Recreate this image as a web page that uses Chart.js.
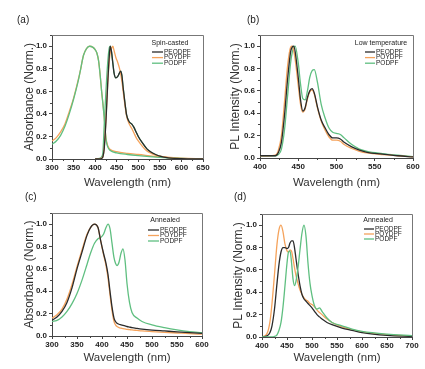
<!DOCTYPE html>
<html>
<head>
<meta charset="utf-8">
<script src="https://cdn.jsdelivr.net/npm/chart.js@4.4.0/dist/chart.umd.min.js"></script>
<style>
  html, body { margin: 0; padding: 0; background: #fff; }
  #wrap { position: relative; width: 425px; height: 369px; overflow: hidden; }
  canvas { position: absolute; }
</style>
</head>
<body>
<div id="wrap">
  <canvas id="chartA" width="212" height="195" style="left:0;top:0"></canvas>
  <canvas id="chartB" width="213" height="195" style="left:212px;top:0"></canvas>
  <canvas id="chartC" width="212" height="184" style="left:0;top:185px"></canvas>
  <canvas id="chartD" width="213" height="184" style="left:212px;top:185px"></canvas>
</div>
<script>
// (a) Spin-casted absorbance: short-wavelength band and long-wavelength band
const aLeftNm = [300, 310, 320, 330, 340, 350, 360, 365, 373, 380, 387, 395, 400, 404, 408, 412, 415, 418, 421, 425, 429, 435, 450, 475, 500, 550, 600, 650];
const aLeftPODPF = [0.13, 0.16, 0.21, 0.29, 0.4, 0.53, 0.68, 0.77, 0.92, 0.98, 1.0, 0.99, 0.97, 0.94, 0.87, 0.73, 0.6, 0.49, 0.37, 0.18, 0.11, 0.075, 0.055, 0.04, 0.03, 0.015, 0.006, 0.0];
const aLeftPOYDPF = [0.16, 0.19, 0.24, 0.31, 0.42, 0.54, 0.69, 0.77, 0.92, 0.98, 1.0, 0.99, 0.97, 0.94, 0.87, 0.73, 0.6, 0.49, 0.37, 0.19, 0.12, 0.085, 0.065, 0.05, 0.04, 0.02, 0.008, 0.002];

const aRightNm = [400, 410, 415, 418, 421, 425, 429, 433, 435, 438, 441, 444, 448, 452, 456, 459, 462, 465, 469, 473, 479, 485, 490, 495, 500, 510, 520, 530, 540, 550, 570, 600, 650];
const aRightPEODPF = [0, 0, 0.005, 0.02, 0.09, 0.33, 0.66, 0.93, 1.0, 0.95, 0.85, 0.76, 0.72, 0.73, 0.76, 0.78, 0.74, 0.63, 0.5, 0.39, 0.33, 0.31, 0.28, 0.24, 0.2, 0.14, 0.09, 0.06, 0.04, 0.025, 0.01, 0.003, 0];
const aRightPOYDPF = [0, 0, 0.01, 0.02, 0.1, 0.35, 0.66, 0.88, 0.94, 0.98, 1.0, 0.96, 0.9, 0.86, 0.81, 0.76, 0.69, 0.6, 0.48, 0.38, 0.31, 0.27, 0.23, 0.19, 0.16, 0.11, 0.07, 0.05, 0.035, 0.025, 0.012, 0.004, 0];
const aRightPODPF = [0, 0.005, 0.02, 0.06, 0.3, 0.6, 0.85, 0.99, 1.0, 0.95, 0.85, 0.76, 0.72, 0.73, 0.76, 0.78, 0.74, 0.63, 0.5, 0.39, 0.33, 0.31, 0.28, 0.24, 0.2, 0.14, 0.09, 0.06, 0.04, 0.025, 0.01, 0.003, 0];

// (b) Low temperature PL
const bNm = [400, 410, 420, 424, 428, 432, 436, 440, 442, 444, 446, 450, 453, 456, 459, 462, 465, 468, 471, 475, 480, 485, 490, 495, 500, 505, 510, 520, 530, 540, 560, 580, 600];
const bPEODPF = [0.02, 0.02, 0.02, 0.05, 0.14, 0.38, 0.7, 0.95, 0.99, 1.0, 0.95, 0.72, 0.52, 0.42, 0.45, 0.54, 0.6, 0.62, 0.58, 0.46, 0.34, 0.27, 0.21, 0.18, 0.18, 0.17, 0.14, 0.1, 0.07, 0.05, 0.035, 0.02, 0.01];
const bPOYDPF = [0.02, 0.02, 0.025, 0.07, 0.2, 0.5, 0.82, 0.99, 1.0, 0.96, 0.88, 0.65, 0.48, 0.41, 0.44, 0.53, 0.59, 0.61, 0.57, 0.45, 0.33, 0.25, 0.19, 0.16, 0.16, 0.15, 0.12, 0.085, 0.06, 0.045, 0.03, 0.02, 0.01];
const bPODPF = [0.02, 0.02, 0.02, 0.03, 0.08, 0.25, 0.55, 0.85, 0.94, 0.99, 1.0, 0.85, 0.66, 0.53, 0.52, 0.6, 0.72, 0.78, 0.79, 0.68, 0.48, 0.36, 0.27, 0.23, 0.22, 0.21, 0.18, 0.12, 0.08, 0.06, 0.04, 0.025, 0.012];

// (c) Annealed absorbance
const cNm = [300, 310, 320, 330, 340, 350, 360, 370, 377, 385, 392, 397, 403, 408, 412, 416, 420, 424, 427, 430, 434, 438, 442, 446, 450, 455, 460, 470, 480, 500, 525, 550, 575, 600];
const cPEODPF = [0.14, 0.17, 0.22, 0.3, 0.43, 0.6, 0.75, 0.9, 0.97, 1.0, 0.97, 0.86, 0.74, 0.65, 0.55, 0.4, 0.26, 0.16, 0.13, 0.115, 0.105, 0.1, 0.095, 0.09, 0.085, 0.08, 0.075, 0.068, 0.062, 0.053, 0.045, 0.037, 0.03, 0.024];
const cPOYDPF = [0.16, 0.19, 0.24, 0.33, 0.46, 0.62, 0.77, 0.91, 0.97, 1.0, 0.97, 0.86, 0.73, 0.63, 0.52, 0.37, 0.23, 0.13, 0.1, 0.085, 0.075, 0.07, 0.066, 0.063, 0.06, 0.057, 0.054, 0.05, 0.046, 0.04, 0.033, 0.027, 0.021, 0.016];
const cPODPF = [0.13, 0.14, 0.17, 0.22, 0.29, 0.38, 0.5, 0.64, 0.74, 0.83, 0.87, 0.88, 0.91, 0.97, 1.0, 0.96, 0.83, 0.7, 0.65, 0.63, 0.66, 0.74, 0.78, 0.68, 0.47, 0.3, 0.21, 0.16, 0.13, 0.1, 0.075, 0.055, 0.04, 0.03];

// (d) Annealed PL
const dNm = [400, 410, 416, 420, 425, 430, 434, 438, 442, 446, 450, 453, 456, 459, 462, 465, 468, 472, 476, 480, 484, 488, 492, 496, 500, 505, 510, 515, 520, 530, 540, 560, 580, 600, 650, 700];
const dPEODPF = [0, 0.01, 0.04, 0.1, 0.25, 0.48, 0.65, 0.76, 0.8, 0.8, 0.79, 0.8, 0.84, 0.86, 0.86, 0.8, 0.7, 0.57, 0.46, 0.38, 0.34, 0.32, 0.3, 0.28, 0.26, 0.23, 0.2, 0.18, 0.16, 0.13, 0.11, 0.08, 0.06, 0.04, 0.015, 0.005];
const dPOYDPF = [0, 0.03, 0.14, 0.3, 0.56, 0.83, 0.96, 1.0, 0.94, 0.83, 0.77, 0.76, 0.78, 0.77, 0.7, 0.62, 0.55, 0.48, 0.42, 0.38, 0.35, 0.33, 0.32, 0.3, 0.29, 0.27, 0.24, 0.22, 0.2, 0.16, 0.13, 0.09, 0.065, 0.045, 0.02, 0.008];
const dPODPF = [0, 0, 0, 0, 0.005, 0.02, 0.06, 0.13, 0.27, 0.46, 0.66, 0.76, 0.77, 0.67, 0.52, 0.46, 0.5, 0.62, 0.78, 0.93, 1.0, 0.9, 0.66, 0.48, 0.37, 0.28, 0.25, 0.26, 0.23, 0.17, 0.13, 0.1, 0.07, 0.05, 0.025, 0.012];

const seriesNames = ['PEODPF', 'POYDPF', 'PODPF'];
const yTicks = [0, 0.2, 0.4, 0.6, 0.8, 1.0];

const COLORS = { PEODPF: '#2b2b2b', POYDPF: '#f5a35c', PODPF: '#5fbf80' };
const FONT = '"Liberation Sans", Arial, sans-serif';

function pts(xs, ys) {
  return xs.map((x, i) => ({ x: x, y: ys[i] }));
}

function line(name, xs, ys, order) {
  return {
    label: name,
    data: pts(xs, ys),
    borderColor: COLORS[name],
    borderWidth: 1.3,
    pointRadius: 0,
    fill: false,
    cubicInterpolationMode: 'monotone',
    order: order || 0
  };
}

// frame, minor ticks, panel tag and inset legend
const panelDecor = {
  id: 'panelDecor',
  afterDraw(chart, args, o) {
    const { ctx, chartArea: ca, scales } = chart;
    ctx.save();
    ctx.strokeStyle = '#777';
    ctx.lineWidth = 1;
    ctx.beginPath();
    ctx.moveTo(ca.left, Math.round(ca.top) + 0.5);
    ctx.lineTo(Math.round(ca.right) + 0.5, Math.round(ca.top) + 0.5);
    ctx.lineTo(Math.round(ca.right) + 0.5, ca.bottom);
    ctx.stroke();

    // minor ticks
    ctx.strokeStyle = '#444';
    ctx.beginPath();
    const xs = scales.x;
    for (let v = xs.min + 25; v < xs.max; v += 50) {
      const px = Math.round(xs.getPixelForValue(v)) + 0.5;
      ctx.moveTo(px, ca.bottom);
      ctx.lineTo(px, ca.bottom + 2);
    }
    const ys = scales.y;
    for (let v = 0.1; v < 1.1; v += 0.2) {
      const py = Math.round(ys.getPixelForValue(v)) + 0.5;
      ctx.moveTo(ca.left, py);
      ctx.lineTo(ca.left - 2, py);
    }
    ctx.stroke();

    // panel tag
    ctx.fillStyle = '#222';
    ctx.font = '10px ' + FONT;
    ctx.textBaseline = 'middle';
    ctx.textAlign = 'left';
    ctx.fillText(o.tag, o.tagX, o.tagY);

    // legend
    ctx.font = '7px ' + FONT;
    ctx.textAlign = 'center';
    ctx.fillText(o.legendTitle, ca.right + o.titleDx, ca.top + o.titleDy);
    ctx.font = '6.5px ' + FONT;
    ctx.textAlign = 'left';
    seriesNames.forEach((name, i) => {
      const y = ca.top + o.rowDy + i * o.rowStep;
      ctx.strokeStyle = COLORS[name];
      ctx.lineWidth = 1.3;
      ctx.beginPath();
      ctx.moveTo(ca.right + o.lineX0, y);
      ctx.lineTo(ca.right + o.lineX1, y);
      ctx.stroke();
      ctx.fillStyle = '#222';
      ctx.fillText(name, ca.right + o.textDx, y);
    });
    ctx.restore();
  }
};

function makeChart(id, cfg) {
  const canvas = document.getElementById(id);
  const W = canvas.width, H = canvas.height;
  return new Chart(canvas.getContext('2d'), {
    type: 'line',
    data: { datasets: cfg.datasets },
    plugins: [panelDecor],
    options: {
      responsive: false,
      animation: false,
      layout: { padding: { top: cfg.top, right: W - cfg.right, left: 0, bottom: 0 } },
      scales: {
        x: {
          type: 'linear',
          min: cfg.xMin,
          max: cfg.xMax,
          afterFit: s => { s.height = H - cfg.bottom; },
          ticks: {
            stepSize: 50,
            maxRotation: 0,
            padding: 1,
            color: '#222',
            font: { family: FONT, size: 8, weight: 'bold' }
          },
          grid: { drawOnChartArea: false, drawTicks: true, tickLength: 3, color: '#444' },
          border: { display: true, color: '#444', width: 1 },
          title: {
            display: true,
            text: 'Wavelength (nm)',
            color: '#333',
            font: { family: FONT, size: 11.5, lineHeight: 1.2 },
            padding: { top: 0, bottom: cfg.xTitlePad }
          }
        },
        y: {
          min: 0,
          max: 1.1,
          afterBuildTicks: s => {
            s.ticks = yTicks.map(v => ({ value: v }));
          },
          afterFit: s => { s.width = cfg.left; },
          ticks: {
            callback: v => Number(v).toFixed(1),
            padding: 2,
            color: '#222',
            font: { family: FONT, size: 8, weight: 'bold' }
          },
          grid: { drawOnChartArea: false, drawTicks: true, tickLength: 3, color: '#444' },
          border: { display: true, color: '#444', width: 1 },
          title: {
            display: true,
            text: cfg.yTitle,
            color: '#333',
            font: { family: FONT, size: 12, lineHeight: 1.2 },
            padding: { top: cfg.yTitlePad, bottom: 0 }
          }
        }
      },
      plugins: {
        legend: { display: false },
        tooltip: { enabled: false },
        panelDecor: cfg.decor
      }
    }
  });
}

makeChart('chartA', {
  left: 52, right: 203, top: 35, bottom: 159,
  xMin: 300, xMax: 650,
  yTitle: 'Absorbance (Norm.)', yTitlePad: 22, xTitlePad: 5,
  datasets: [
    line('PEODPF', aRightNm, aRightPEODPF, 0),
    line('POYDPF', aRightNm, aRightPOYDPF, 1),
    line('PODPF', aRightNm, aRightPODPF, 2),
    line('PODPF', aLeftNm, aLeftPODPF, 3),
    line('POYDPF', aLeftNm, aLeftPOYDPF, 4)
  ],
  decor: {
    tag: '(a)', tagX: 17, tagY: 20, legendTitle: 'Spin-casted',
    titleDx: -33, titleDy: 8, rowDy: 17, rowStep: 5.6,
    lineX0: -51, lineX1: -40, textDx: -39
  }
});

makeChart('chartB', {
  left: 48, right: 201, top: 35, bottom: 158,
  xMin: 400, xMax: 600,
  yTitle: 'PL Intensity (Norm.)', yTitlePad: 16, xTitlePad: 5,
  datasets: [
    line('PEODPF', bNm, bPEODPF, 0),
    line('POYDPF', bNm, bPOYDPF, 1),
    line('PODPF', bNm, bPODPF, 2)
  ],
  decor: {
    tag: '(b)', tagX: 35, tagY: 20, legendTitle: 'Low temperature',
    titleDx: -32, titleDy: 8, rowDy: 17, rowStep: 5.6,
    lineX0: -48, lineX1: -38, textDx: -37
  }
});

makeChart('chartC', {
  left: 52, right: 202, top: 28, bottom: 151,
  xMin: 300, xMax: 600,
  yTitle: 'Absorbance (Norm.)', yTitlePad: 22, xTitlePad: 4,
  datasets: [
    line('PEODPF', cNm, cPEODPF, 0),
    line('POYDPF', cNm, cPOYDPF, 1),
    line('PODPF', cNm, cPODPF, 2)
  ],
  decor: {
    tag: '(c)', tagX: 25, tagY: 12, legendTitle: 'Annealed',
    titleDx: -37, titleDy: 7, rowDy: 17, rowStep: 5.5,
    lineX0: -54, lineX1: -43, textDx: -42
  }
});

makeChart('chartD', {
  left: 50, right: 200, top: 29, bottom: 152,
  xMin: 400, xMax: 700,
  yTitle: 'PL Intensity (Norm.)', yTitlePad: 19, xTitlePad: 4,
  datasets: [
    line('PEODPF', dNm, dPEODPF, 1),
    line('POYDPF', dNm, dPOYDPF, 2),
    line('PODPF', dNm, dPODPF, 0)
  ],
  decor: {
    tag: '(d)', tagX: 22, tagY: 12, legendTitle: 'Annealed',
    titleDx: -34, titleDy: 6, rowDy: 15, rowStep: 5,
    lineX0: -48, lineX1: -38, textDx: -37
  }
});
</script>
</body>
</html>
